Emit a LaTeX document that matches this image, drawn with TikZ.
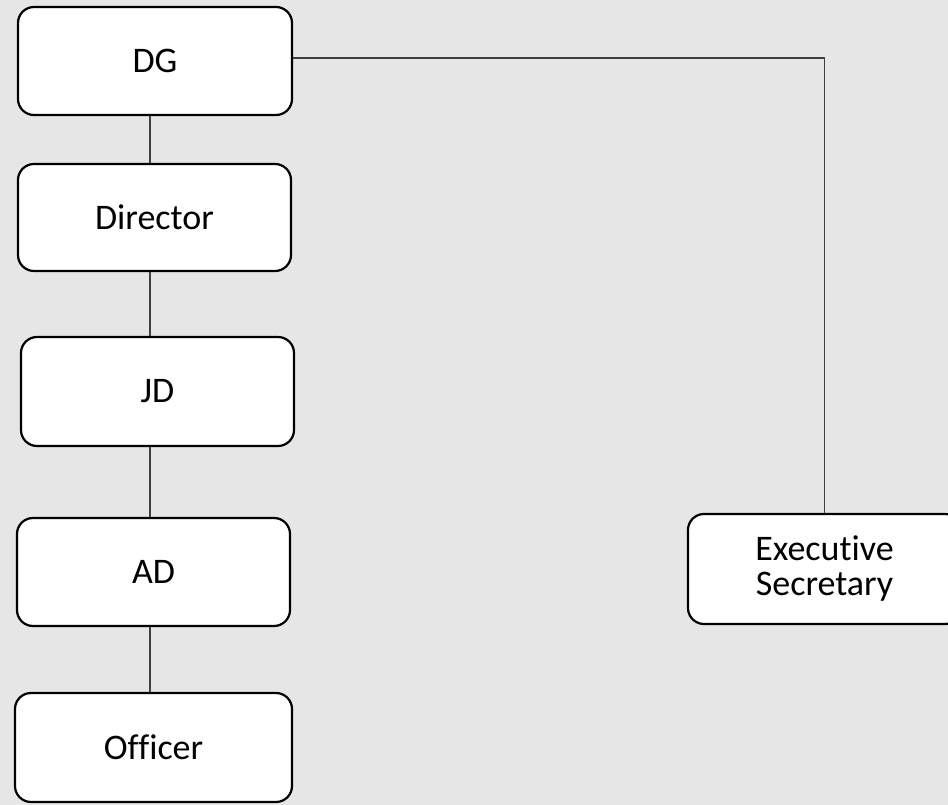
\documentclass[tikz,border=0pt]{standalone}
\usepackage{fontspec}
\setmainfont[Ligatures={NoCommon}]{Carlito}
\definecolor{bgc}{HTML}{E6E6E6}
\begin{document}
\begin{tikzpicture}[x=1pt,y=-1pt,
  box/.style={draw=black, line width=2.2pt, fill=white, rounded corners=16pt,
    font=\fontsize{36}{35}\selectfont, align=center, inner sep=0pt},
  link/.style={draw=black!75, line width=1.2pt}]
\useasboundingbox[fill=bgc] (0,0) rectangle (948,805);
\clip (0,0) rectangle (948,805);
\coordinate (spine) at (150,0);
\coordinate (hline) at (0,58);
\node[box, minimum width=274pt, minimum height=108pt] (DG) at (155,61) {DG};
\node[box, minimum width=273pt, minimum height=107pt] (DIR) at (154.5,217.5) {Director};
\node[box, minimum width=273pt, minimum height=109pt] (JD) at (157.5,391.5) {JD};
\node[box, minimum width=273pt, minimum height=108pt] (AD) at (153.5,572) {AD};
\node[box, minimum width=277pt, minimum height=109pt] (OF) at (153.5,747.5) {Officer};
\node[box, minimum width=273pt, minimum height=110pt] (ES) at (824.5,569) {Executive\\Secretary};
\draw[link] (DG.south -| spine) -- (DIR.north -| spine);
\draw[link] (DIR.south -| spine) -- (JD.north -| spine);
\draw[link] (JD.south -| spine) -- (AD.north -| spine);
\draw[link] (AD.south -| spine) -- (OF.north -| spine);
\draw[link] (DG.east |- hline) -| (ES.north);
\end{tikzpicture}
\end{document}
